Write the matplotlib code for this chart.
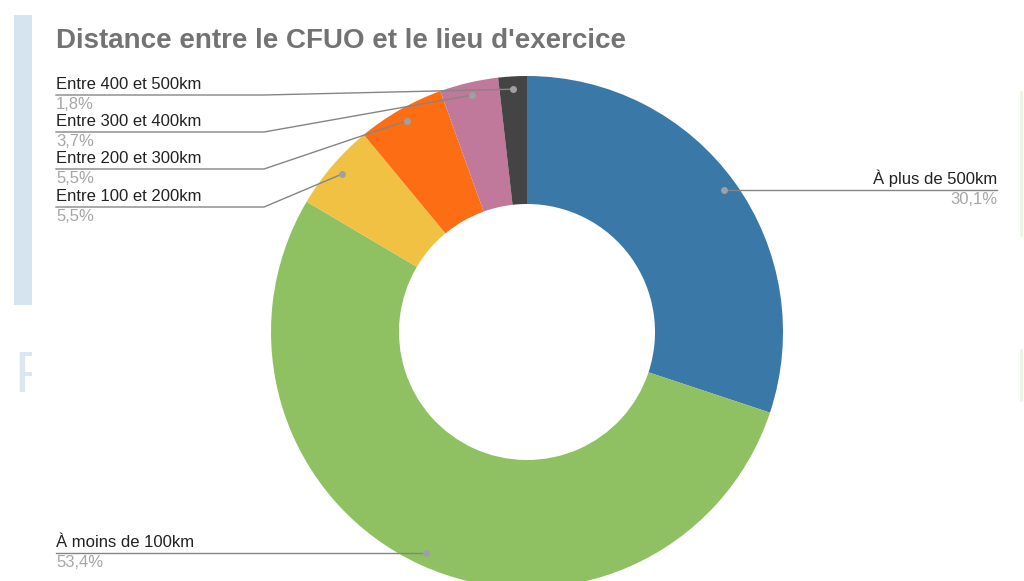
import matplotlib.pyplot as plt
import numpy as np

plt.rcParams['font.family'] = ['Liberation Sans', 'DejaVu Sans']

title = "Distance entre le CFUO et le lieu d'exercice"
labels = ["À plus de 500km", "À moins de 100km", "Entre 100 et 200km",
          "Entre 200 et 300km", "Entre 300 et 400km", "Entre 400 et 500km"]
values = [30.1, 53.4, 5.5, 5.5, 3.7, 1.8]
pct_text = ["30,1%", "53,4%", "5,5%", "5,5%", "3,7%", "1,8%"]
colors = ["#3a78a7", "#8fc163", "#f0c143", "#fc6d14", "#c0789b", "#444444"]

fig = plt.figure(figsize=(10.24, 5.81), dpi=100)
ax = fig.add_axes([0, 0, 1, 1])

# faint slide background bits
ax.add_patch(plt.Rectangle((14, 15), 18, 290, color='#d5e4ee', lw=0, zorder=0))
ax.text(14, 377, "F", fontsize=42, color='#dbe7f0', ha='left', va='center', zorder=0)
ax.add_patch(plt.Rectangle((32, 340), 30, 70, color='white', lw=0, zorder=0.5))
ax.plot([1021, 1021], [92, 235], color='#eef4e3', lw=2, zorder=0)
ax.plot([1021, 1021], [350, 400], color='#eef4e3', lw=2, zorder=0)

cx, cy, R = 527, 332, 256
ax.pie(values, colors=colors, startangle=-90, counterclock=True,
       center=(cx, cy), radius=R, frame=True,
       wedgeprops=dict(width=R * 0.5, linewidth=0))
ax.set_xlim(0, 1024)
ax.set_ylim(581, 0)   # pixel-like coordinates, y down
ax.set_aspect('equal')
ax.axis('off')

ax.text(56, 41, title, fontsize=20, fontweight='bold', color='#737373',
        ha='left', va='center')

# dots at mid angle of each wedge
cum = np.cumsum([0] + values[:-1])
mid = np.radians(360 * (cum + np.array(values) / 2) / 100)
dx = cx + 0.95 * R * np.sin(mid)
dy = cy - 0.95 * R * np.cos(mid)

line_c = '#858585'
lab_c = '#222222'
pct_c = '#a6a6a6'

# right label (blue)
ax.plot([dx[0], 997], [dy[0], dy[0]], color=line_c, lw=1)
ax.text(997, dy[0] - 3, labels[0], fontsize=12, color=lab_c, ha='right', va='bottom')
ax.text(997, dy[0] + 2, pct_text[0], fontsize=12, color=pct_c, ha='right', va='top')

# left labels
left_y = {5: 95, 4: 132, 3: 169, 2: 207, 1: None}
for i, ly in left_y.items():
    if ly is None:
        ly = dy[i]
        ax.plot([56, dx[i]], [ly, ly], color=line_c, lw=1)
    else:
        ax.plot([56, 264, dx[i]], [ly, ly, dy[i]], color=line_c, lw=1)
    ax.text(56, ly - 3, labels[i], fontsize=12, color=lab_c, ha='left', va='bottom')
    ax.text(56, ly + 2, pct_text[i], fontsize=12, color=pct_c, ha='left', va='top')

ax.plot(dx, dy, 'o', color='#a0a0a0', markersize=4, zorder=5)

fig.savefig('out.png', dpi=100)
